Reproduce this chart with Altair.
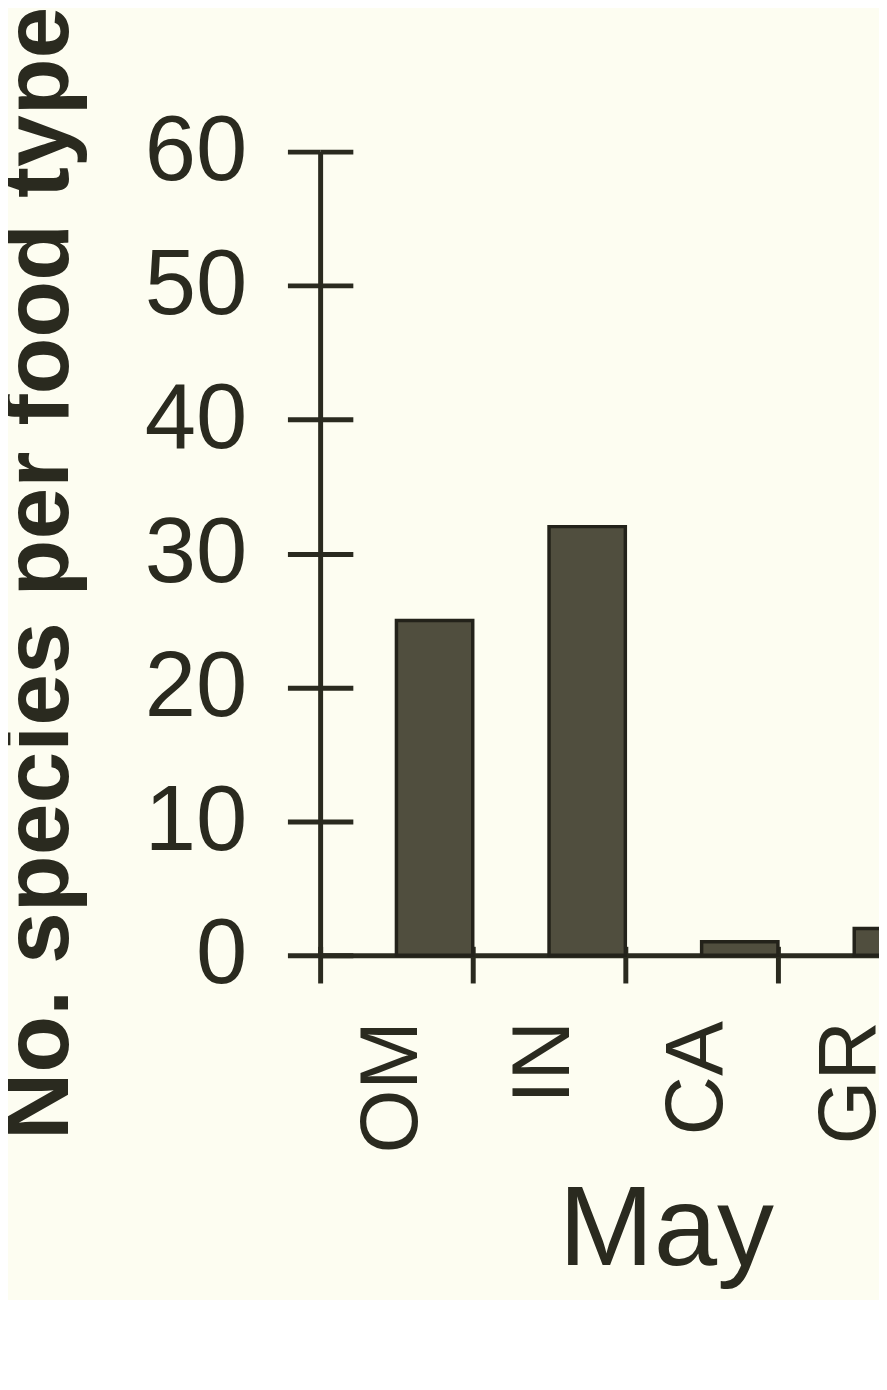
import altair as alt
import pandas as pd

# ---- data ----
food_types = ["OM", "IN", "CA", "GR"]
species_counts = [25, 32, 1, 2]
month = "May"
offset_groups = ["other", "May"]   # bars sit in the right half of each category slot
y_ticks = [0, 10, 20, 30, 40, 50, 60]

df = pd.DataFrame({
    "food": food_types,
    "count": species_counts,
    "group": [month] * len(food_types),
})

INK = "#2a2a1f"
BAR = "#504e3e"
BG = "#fdfdf1"
FONT = "Liberation Sans"

x_scale = alt.Scale(domain=food_types, range=[0, 616], paddingInner=0, paddingOuter=0)
y_scale = alt.Scale(domain=[0, 60], nice=False)
off_scale = alt.Scale(domain=offset_groups, paddingInner=0, paddingOuter=0)

bars = alt.Chart(df).mark_bar(
    color=BAR, stroke="#23221a", strokeWidth=3.5
).encode(
    x=alt.X("food:N", sort=food_types, scale=x_scale,
            axis=alt.Axis(orient="bottom", title=month, tickBand="extent",
                          labelAngle=-90, labelFontSize=83, labelFont=FONT,
                          labelColor=INK, labelPadding=38, labelOffset=-5,
                          tickSize=28, tickWidth=5, tickColor=INK,
                          domainWidth=5, domainColor=INK,
                          titleFontSize=115, titleFont=FONT, titleFontWeight="normal",
                          titleColor=INK, titleX=349, titleY=221)),
    xOffset=alt.XOffset("group:N", scale=off_scale),
    y=alt.Y("count:Q", scale=y_scale,
            axis=alt.Axis(orient="left", values=y_ticks, title="No. species per food type",
                          labelFontSize=93, labelFont=FONT, labelColor=INK,
                          labelPadding=41, tickSize=33, tickWidth=5, tickColor=INK,
                          domainWidth=5, domainColor=INK, grid=False,
                          titleFontSize=94, titleFont=FONT, titleFontWeight="bold",
                          titleColor=INK, titlePadding=57, titleY=425)),
)

ghost = alt.Chart(df).mark_bar(opacity=0).encode(
    x=alt.X("food:N", sort=food_types, scale=x_scale,
            axis=alt.Axis(orient="top", offset=-811, tickBand="extent", labels=False,
                          domain=False, title=None, tickSize=9, tickWidth=5, tickColor=INK)),
    xOffset=alt.XOffset("group:N", scale=off_scale),
    y=alt.Y("count:Q", scale=y_scale,
            axis=alt.Axis(orient="right", offset=-564, values=y_ticks, labels=False,
                          domain=False, title=None, grid=False, tickSize=33, tickWidth=5,
                          tickColor=INK)),
)

chart = alt.layer(bars, ghost).resolve_axis(
    x="independent", y="independent"
).properties(
    width=564,
    height=811,
    autosize=alt.AutoSizeParams(type="none"),
    padding={"left": 315, "top": 139, "right": 0, "bottom": 342},
    background=BG,
).configure_view(stroke=None)

chart.save("out.html", embed_options={"renderer": "svg", "actions": False})
